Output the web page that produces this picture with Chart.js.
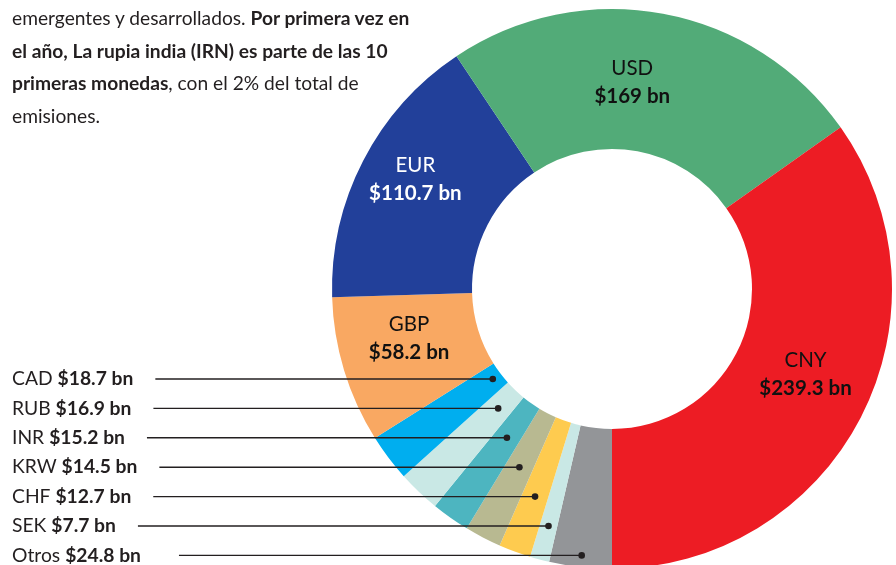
<!DOCTYPE html>
<html lang="es">
<head>
<meta charset="utf-8">
<title>Emisiones por moneda</title>
<script src="https://cdn.jsdelivr.net/npm/chart.js@4.4.1/dist/chart.umd.min.js"></script>
<style>
  html, body { margin: 0; padding: 0; background: #fff; overflow: hidden; width: 896px; height: 565px; }
  #wrap { position: relative; width: 896px; height: 565px; overflow: hidden; }
  #grafico { position: absolute; left: 0; top: 0; }
  #nota {
    position: absolute; left: 12px; top: 2px;
    font-family: Lato, "Open Sans", sans-serif; font-size: 19.2px; line-height: 32.7px;
    color: #231f20; white-space: nowrap;
  }
  #nota b { font-weight: 700; }
</style>
</head>
<body>
<div id="wrap">
  <canvas id="grafico" width="896" height="600"></canvas>
  <div id="nota">
    emergentes y desarrollados. <b>Por primera vez en</b><br>
    <b>el año, La rupia india (IRN) es parte de las 10</b><br>
    <b>primeras monedas</b>, con el 2% del total de<br>
    emisiones.
  </div>
</div>
<script>
(function(){
'use strict';

// datos (orden horario empezando abajo)
const monedas   = ['Otros', 'SEK', 'CHF', 'KRW', 'INR', 'RUB', 'CAD', 'GBP', 'EUR', 'USD', 'CNY'];
const emisiones = [24.8, 7.7, 12.7, 14.5, 15.2, 16.9, 18.7, 58.2, 110.7, 169, 239.3];
const colores   = ['#939598', '#c9e8e5', '#fecb4f', '#b8b991', '#4db5c0', '#c9e8e5',
                   '#00aeef', '#f9a862', '#22409a', '#52ab78', '#ed1c24'];
// monedas con línea guía, de arriba a abajo
const conGuia   = ['CAD', 'RUB', 'INR', 'KRW', 'CHF', 'SEK', 'Otros'];

const FUENTE = 'Lato, "Open Sans", sans-serif';
const valorTxt = v => '$' + v + ' bn';

// pequeños ajustes de posición de las etiquetas dentro del anillo
const ajuste = { EUR: [-10, -13], GBP: [-2, -12], CNY: [7, -11], USD: [-18, 0] };

const etiquetasPlugin = {
  id: 'etiquetas',
  afterDatasetsDraw(chart){
    const ctx = chart.ctx;
    const arcs = chart.getDatasetMeta(0).data;
    ctx.save();
    ctx.textBaseline = 'middle';

    // etiquetas dentro de los segmentos grandes
    arcs.forEach((arc, i) => {
      const nombre = monedas[i];
      if (conGuia.includes(nombre)) return;
      const p = arc.tooltipPosition();
      const d = ajuste[nombre] || [0, 0];
      const x = p.x + d[0], y = p.y + d[1];
      ctx.fillStyle = nombre === 'EUR' ? '#ffffff' : '#111111';
      ctx.textAlign = 'center';
      ctx.font = '400 20.5px ' + FUENTE;
      ctx.fillText(nombre, x, y - 14);
      ctx.font = '700 20.5px ' + FUENTE;
      ctx.fillText(valorTxt(emisiones[i]), x, y + 14);
    });

    // etiquetas con línea guía a la izquierda
    ctx.textAlign = 'left';
    conGuia.forEach((nombre, k) => {
      const i = monedas.indexOf(nombre);
      const arc = arcs[i];
      const y = 379 + k * 29.4;
      const a = (arc.startAngle + arc.endAngle) / 2;
      const t = (y - arc.y) / Math.sin(a);
      const xDot = arc.x + t * Math.cos(a);

      ctx.fillStyle = '#231f20';
      ctx.font = '400 19.3px ' + FUENTE;
      const txt1 = nombre + ' ';
      ctx.fillText(txt1, 12, y);
      const w1 = ctx.measureText(txt1).width;
      ctx.font = '700 19.3px ' + FUENTE;
      const txt2 = valorTxt(emisiones[i]);
      ctx.fillText(txt2, 12 + w1, y);
      const fin = 12 + w1 + ctx.measureText(txt2).width;
      const hueco = nombre === 'Otros' ? 38 : 22;

      ctx.strokeStyle = '#231f20';
      ctx.lineWidth = 1.4;
      ctx.beginPath();
      ctx.moveTo(fin + hueco, y);
      ctx.lineTo(xDot, y);
      ctx.stroke();
      ctx.beginPath();
      ctx.arc(xDot, y, 3.3, 0, Math.PI * 2);
      ctx.fill();
    });
    ctx.restore();
  }
};

function dibujar(){
  const canvas = document.getElementById('grafico');
  const previo = Chart.getChart(canvas);
  if (previo) previo.destroy();

  new Chart(canvas.getContext('2d'), {
    type: 'doughnut',
    data: {
      labels: monedas,
      datasets: [{
        data: emisiones,
        backgroundColor: colores,
        borderWidth: 0,
        clip: false
      }]
    },
    options: {
      responsive: false,
      animation: false,
      rotation: 180,
      cutout: '50%',
      layout: { padding: { left: 332, right: 4, top: 9, bottom: 31 } },
      plugins: { legend: { display: false }, tooltip: { enabled: false } }
    },
    plugins: [etiquetasPlugin]
  });
}

Promise.all([
  document.fonts.load('400 19px Lato'),
  document.fonts.load('700 19px Lato')
]).then(dibujar, dibujar);

})();
</script>
</body>
</html>
